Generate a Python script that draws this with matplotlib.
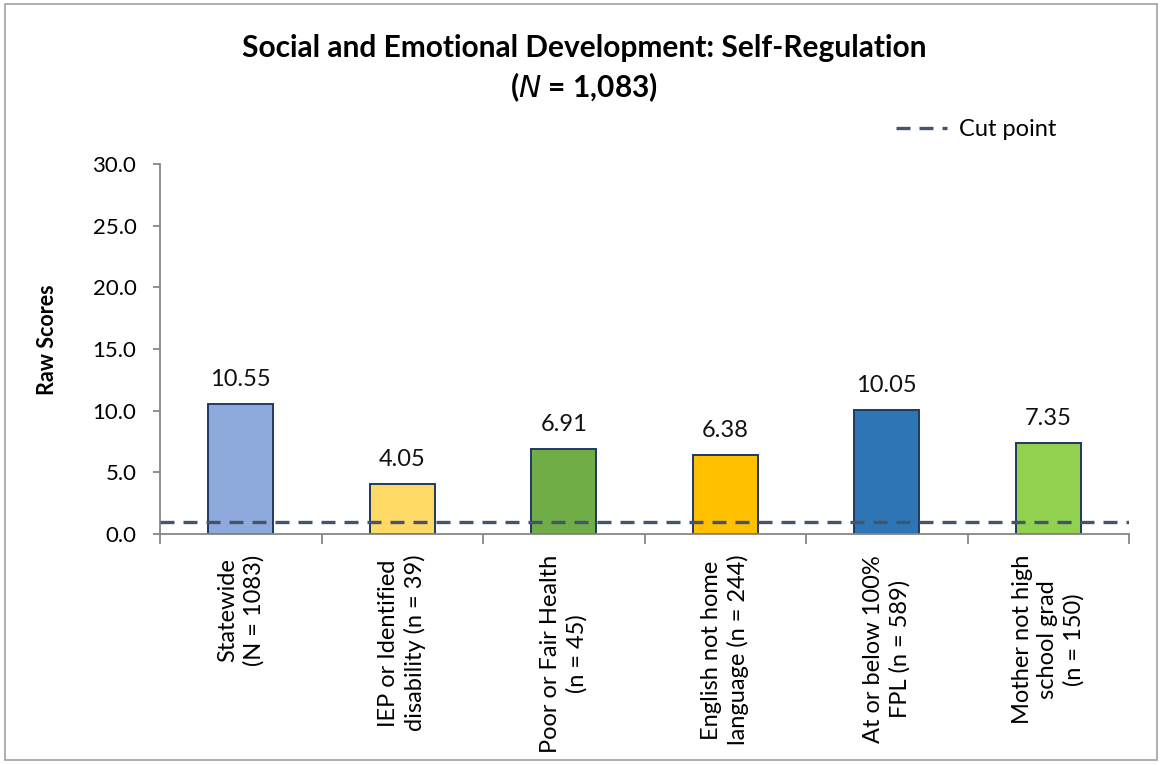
import matplotlib
matplotlib.use("Agg")
import matplotlib.pyplot as plt
from matplotlib.lines import Line2D
from matplotlib.patches import Rectangle

plt.rcParams['font.family'] = ['Lato', 'DejaVu Sans']

categories = [
    "Statewide\n(N = 1083)",
    "IEP or Identified\ndisability (n = 39)",
    "Poor or Fair Health\n(n = 45)",
    "English not home\nlanguage (n = 244)",
    "At or below 100%\nFPL (n = 589)",
    "Mother not high\nschool grad\n(n = 150)",
]
values = [10.55, 4.05, 6.91, 6.38, 10.05, 7.35]
bar_colors = ["#8EA9DB", "#FFD966", "#70AD47", "#FFC000", "#2E75B6", "#92D050"]
cut_point = 1.0
y_ticks = [0, 5, 10, 15, 20, 25, 30]

W, H = 1160, 765
fig = plt.figure(figsize=(W / 100, H / 100), dpi=100)
ax = fig.add_axes([160 / W, 1 - 534 / H, 969 / W, 370 / H])

x = list(range(len(categories)))
ax.bar(x, values, width=0.405, color=bar_colors, edgecolor="#1F3864", linewidth=1.4, zorder=2)

for xi, v in zip(x, values):
    ax.annotate(f"{v:.2f}", xy=(xi, v), xytext=(0, 13), textcoords="offset points",
                ha="center", va="baseline", fontsize=17, color="#111111")

dash = (0, (4.2, 2.7))
ax.axhline(cut_point, color="#44546A", linestyle=dash, linewidth=2.4, zorder=3)

ax.set_xlim(-0.5, len(categories) - 0.5)
ax.set_ylim(0, 30)
ax.set_yticks(y_ticks)
ax.set_yticklabels([f"{t:.1f}" for t in y_ticks], fontsize=16)
ax.set_xticks([i - 0.5 for i in range(len(categories) + 1)])
ax.set_xticklabels([])
ax.set_xticks(x, minor=True)
ax.set_xticklabels(categories, minor=True, rotation=90, fontsize=17, ha="center",
                   va="top", multialignment="center", linespacing=1.25)
ax.tick_params(axis="x", which="minor", length=0, pad=15)
ax.tick_params(axis="x", which="major", length=7, color="#868686", width=1.3)
ax.tick_params(axis="y", length=5, color="#868686", width=1.3, pad=12)

for side in ["top", "right"]:
    ax.spines[side].set_visible(False)
for side in ["left", "bottom"]:
    ax.spines[side].set_color("#868686")
    ax.spines[side].set_linewidth(1.3)

fig.text(48 / W, 1 - 340 / H, "Raw Scores", rotation=90, ha="center", va="center",
         fontsize=15.5, fontweight="bold")

fig.text(584 / W, 1 - 57 / H, "Social and Emotional Development: Self-Regulation",
         ha="center", va="baseline", fontsize=21.5, fontweight="bold")
fig.text(584 / W, 1 - 97 / H, "($\\bf{\\it{N}}$ = 1,083)",
         ha="center", va="baseline", fontsize=21.5, fontweight="bold")

legend_handle = Line2D([], [], color="#44546A", linestyle=dash, linewidth=2.4)
fig.legend([legend_handle], ["Cut point"], loc="center left",
           bbox_to_anchor=(896 / W, 1 - 130 / H), borderpad=0, borderaxespad=0,
           frameon=False, fontsize=17, handlelength=2.16, handletextpad=0.5)

fig.patches.append(Rectangle((5 / W, 5 / H), (W - 8) / W, (H - 9) / H, transform=fig.transFigure,
                             fill=False, edgecolor="#A0A0A0", linewidth=1.2))

fig.savefig("out.png", dpi=100, facecolor="white")
